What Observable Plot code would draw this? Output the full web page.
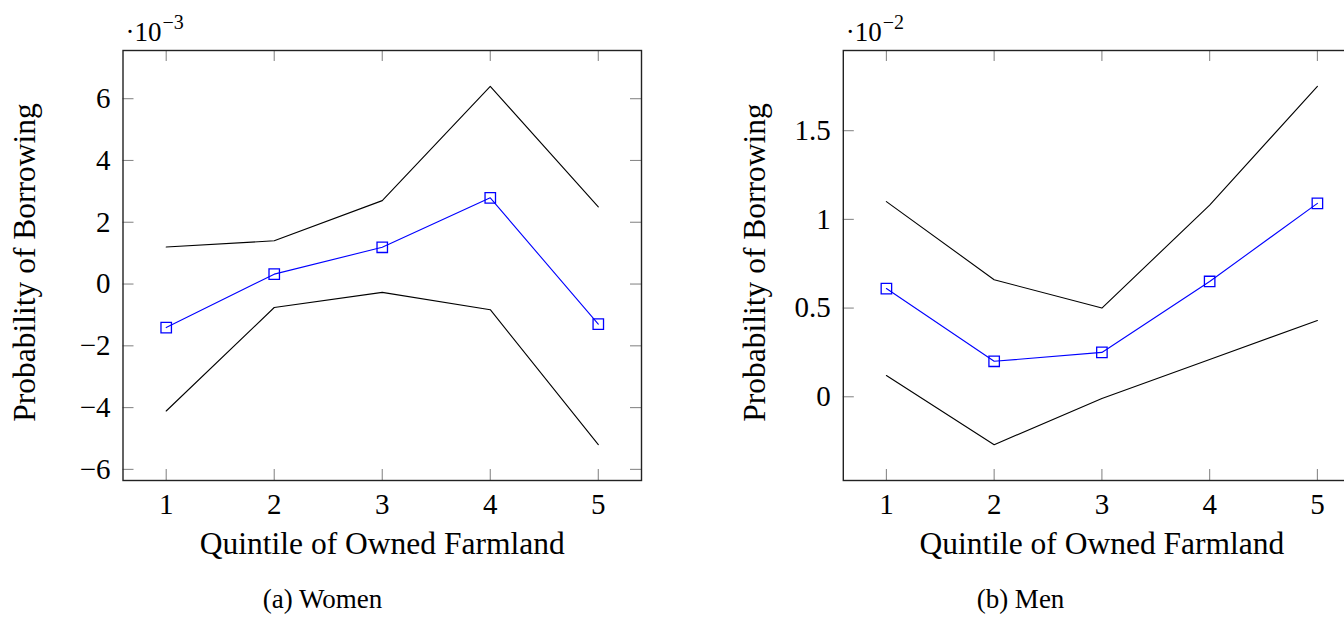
<!DOCTYPE html>
<html>
<head>
<meta charset="utf-8">
<script src="https://cdn.jsdelivr.net/npm/d3@7"></script>
<script src="https://cdn.jsdelivr.net/npm/@observablehq/plot@0.6"></script>
<style>
  html, body { margin: 0; padding: 0; background: #fff; }
  body { width: 1344px; height: 617px; overflow: hidden; position: relative; }
  .panel { position: absolute; top: 0; width: 660px; height: 617px; }
  .panel svg { display: block; }
</style>
</head>
<body>
<div id="left" class="panel" style="left:0px"></div>
<div id="right" class="panel" style="left:720px"></div>
<script>
// ---- data ----
const quintiles = [1, 2, 3, 4, 5];
const xTicks = [1, 2, 3, 4, 5];

// Women, values in units of 10^-3
const womenMean  = [-1.41, 0.32, 1.19, 2.79, -1.30];
const womenUpper = [1.20, 1.40, 2.70, 6.40, 2.50];
const womenLower = [-4.11, -0.76, -0.27, -0.83, -5.20];
const womenYTicks = [-6, -4, -2, 0, 2, 4, 6];

// Men, values in units of 10^-2
const menMean  = [0.61, 0.20, 0.25, 0.65, 1.09];
const menUpper = [1.10, 0.66, 0.50, 1.08, 1.75];
const menLower = [0.12, -0.27, -0.01, 0.21, 0.43];
const menYTicks = [0, 0.5, 1, 1.5];

const xLabel = "Quintile of Owned Farmland";
const yLabel = "Probability of Borrowing";

const FONT = "'Liberation Serif', 'DejaVu Serif', serif";
const W = 660, H = 617;
const TICK = 11;

function enlarged(vals) {
  const lo = d3.min(vals), hi = d3.max(vals), pad = (hi - lo) * 0.1;
  return [lo - pad, hi + pad];
}
const fmt = d => d < 0 ? "\u2212" + (-d) : String(d);

function panel({mean, upper, lower, yTicks, exponent, caption,
                marginLeft, marginRight, yLabelDx, captionDx}) {
  const marginTop = 50, marginBottom = 137;
  const innerW = W - marginLeft - marginRight;
  const innerH = H - marginTop - marginBottom;
  const rows = (ys) => quintiles.map((q, i) => ({q, v: ys[i]}));
  const all = [...mean, ...upper, ...lower];
  const txt = (s, o) => Plot.text([s], {text: d => d, fontFamily: FONT, fill: "black",
                                        textAnchor: "middle", lineAnchor: "middle", ...o});
  return Plot.plot({
    width: W, height: H,
    marginLeft, marginRight, marginTop, marginBottom,
    style: {fontFamily: FONT, fontSize: "29px", background: "white", overflow: "visible"},
    x: {domain: enlarged(quintiles)},
    y: {domain: enlarged(all)},
    marks: [
      Plot.axisX({ticks: xTicks, tickSize: 0, tickPadding: 13, tickFormat: fmt, label: null,
                  fontSize: 29, fontFamily: FONT, fill: "black"}),
      Plot.axisY({ticks: yTicks, tickSize: 0, tickPadding: 12.5, tickFormat: fmt, label: null,
                  fontSize: 29, fontFamily: FONT, fill: "black"}),
      // inward ticks on all four sides
      Plot.tickX(xTicks, {x: d => d, stroke: "#8a8a8a", strokeWidth: 1.1, insetTop: innerH - TICK}),
      Plot.tickX(xTicks, {x: d => d, stroke: "#8a8a8a", strokeWidth: 1.1, insetBottom: innerH - TICK}),
      Plot.tickY(yTicks, {y: d => d, stroke: "#8a8a8a", strokeWidth: 1.1, insetRight: innerW - TICK}),
      Plot.tickY(yTicks, {y: d => d, stroke: "#8a8a8a", strokeWidth: 1.1, insetLeft: innerW - TICK}),
      Plot.line(rows(upper), {x: "q", y: "v", stroke: "black", strokeWidth: 1.1}),
      Plot.line(rows(lower), {x: "q", y: "v", stroke: "black", strokeWidth: 1.1}),
      Plot.line(rows(mean), {x: "q", y: "v", stroke: "#0000ff", strokeWidth: 1.1}),
      Plot.dot(rows(mean), {x: "q", y: "v", symbol: "square", r: 5.9, stroke: "#0000ff",
                            fill: "none", strokeWidth: 1.3}),
      Plot.frame({stroke: "#222", strokeWidth: 1.4}),
      // axis titles
      txt(xLabel, {frameAnchor: "bottom", dy: 63, fontSize: 31.5}),
      txt(yLabel, {frameAnchor: "left", rotate: -90, dx: yLabelDx, dy: -3, fontSize: 31.5}),
      // scale factor label ·10^exp
      txt("\u00B710", {frameAnchor: "top-left", textAnchor: "start", dx: 2.5, dy: -18, fontSize: 27}),
      txt(exponent, {frameAnchor: "top-left", textAnchor: "start", dx: 39.5, dy: -28, fontSize: 20}),
      // sub-caption
      txt(caption, {frameAnchor: "bottom", dx: captionDx, dy: 118.4, fontSize: 27})
    ]
  });
}

document.getElementById("left").appendChild(panel({
  mean: womenMean, upper: womenUpper, lower: womenLower, yTicks: womenYTicks,
  exponent: "\u22123", caption: "(a) Women",
  marginLeft: 122.5, marginRight: 19, yLabelDx: -98, captionDx: -59.75
}));
document.getElementById("right").appendChild(panel({
  mean: menMean, upper: menUpper, lower: menLower, yTicks: menYTicks,
  exponent: "\u22122", caption: "(b) Men",
  marginLeft: 122.8, marginRight: 20, yLabelDx: -88.3, captionDx: -81.4
}));
</script>
</body>
</html>
